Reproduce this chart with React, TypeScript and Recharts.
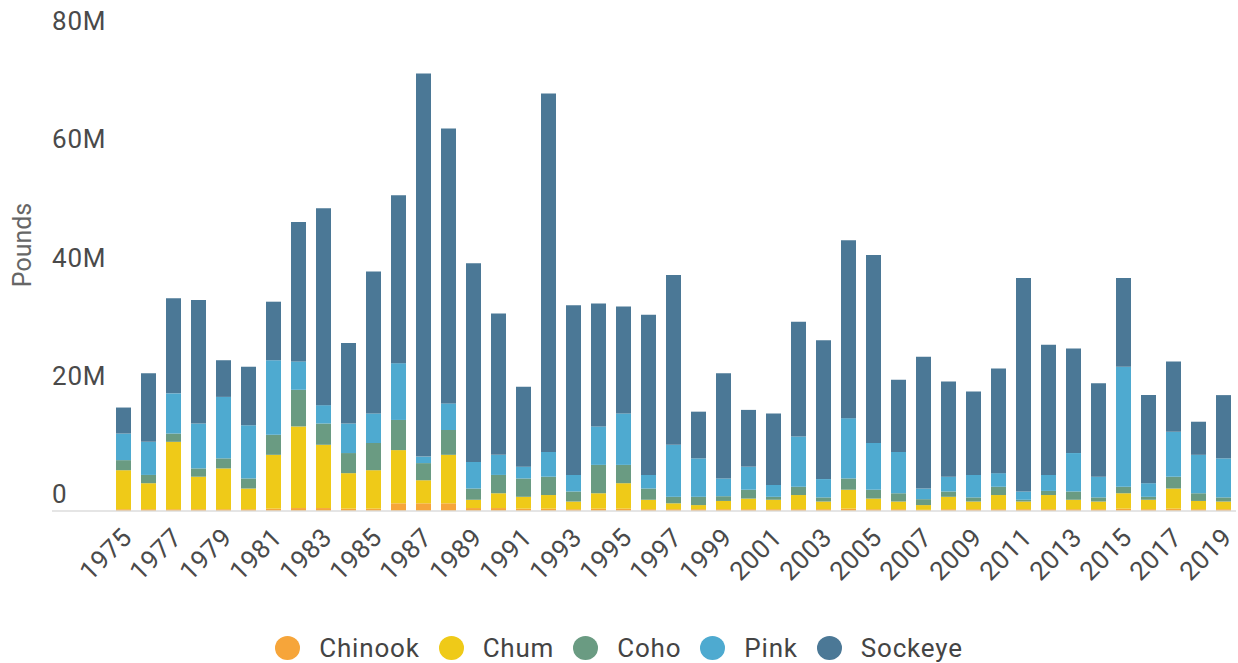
import React from "react"
import { BarChart, Bar, XAxis, YAxis, Legend } from "recharts"

// pounds landed, in millions
const years = [
  1975, 1976, 1977, 1978, 1979, 1980, 1981, 1982, 1983, 1984, 1985, 1986, 1987, 1988, 1989,
  1990, 1991, 1992, 1993, 1994, 1995, 1996, 1997, 1998, 1999, 2000, 2001, 2002, 2003, 2004,
  2005, 2006, 2007, 2008, 2009, 2010, 2011, 2012, 2013, 2014, 2015, 2016, 2017, 2018, 2019,
]
const chinook = [
  0.3, 0.3, 0.3, 0.3, 0.3, 0.3, 0.4, 0.5, 0.5, 0.4, 0.4, 1.3, 1.3, 1.3, 0.5,
  0.5, 0.4, 0.4, 0.3, 0.4, 0.4, 0.3, 0.3, 0.3, 0.3, 0.3, 0.3, 0.3, 0.3, 0.4,
  0.3, 0.3, 0.2, 0.3, 0.3, 0.3, 0.3, 0.3, 0.3, 0.3, 0.4, 0.3, 0.4, 0.3, 0.3,
]
const chum = [
  6.6, 4.4, 11.4, 5.5, 6.9, 3.5, 9.1, 13.8, 10.7, 6.0, 6.5, 9.0, 3.9, 8.2, 1.4,
  2.5, 2.0, 2.3, 1.3, 2.6, 4.3, 1.6, 1.0, 0.7, 1.4, 1.8, 1.6, 2.4, 1.3, 3.2,
  1.8, 1.3, 0.8, 2.1, 1.3, 2.4, 1.3, 2.4, 1.6, 1.3, 2.6, 1.6, 3.4, 1.4, 1.3,
]
const coho = [
  1.7, 1.4, 1.4, 1.4, 1.7, 1.7, 3.4, 6.2, 3.6, 3.4, 4.6, 5.1, 2.9, 4.2, 1.9,
  3.1, 3.1, 3.1, 1.7, 4.8, 3.1, 1.9, 1.1, 1.4, 0.8, 1.5, 0.5, 1.4, 0.7, 1.9,
  1.5, 1.4, 1.0, 0.9, 0.7, 1.4, 0.3, 0.7, 1.4, 0.7, 1.1, 0.5, 2.0, 1.3, 0.7,
]
const pink = [
  4.5, 5.6, 6.8, 7.6, 10.4, 9.0, 12.6, 4.8, 3.1, 5.0, 5.0, 9.6, 1.1, 4.5, 4.5,
  3.4, 2.0, 4.2, 2.8, 6.5, 8.7, 2.3, 8.8, 6.5, 3.0, 3.9, 2.0, 8.5, 3.1, 10.2,
  7.9, 7.0, 1.8, 2.5, 3.8, 2.3, 1.4, 2.7, 6.5, 3.5, 20.3, 2.3, 7.6, 6.5, 6.6,
]
const sockeye = [
  4.4, 11.6, 16.1, 20.9, 6.2, 9.9, 9.9, 23.6, 33.3, 13.6, 24.0, 28.4, 64.8, 46.5, 33.6,
  23.9, 13.5, 60.6, 28.7, 20.8, 18.1, 27.1, 28.7, 7.9, 17.8, 9.6, 12.1, 19.4, 23.5, 30.1,
  31.8, 12.2, 22.3, 16.1, 14.1, 17.7, 36.1, 22.0, 17.7, 15.8, 15.0, 14.9, 11.9, 5.6, 10.7,
]
const yTicks = [0, 20, 40, 60, 80]

const series = [
  { key: "chinook", name: "Chinook", color: "#f6a53a" },
  { key: "chum", name: "Chum", color: "#efca18" },
  { key: "coho", name: "Coho", color: "#6a9b82" },
  { key: "pink", name: "Pink", color: "#4eaad0" },
  { key: "sockeye", name: "Sockeye", color: "#4b7896" },
]

const data = years.map((year, i) => ({
  year: String(year),
  chinook: chinook[i],
  chum: chum[i],
  coho: coho[i],
  pink: pink[i],
  sockeye: sockeye[i],
}))

const YTick = (props: any) => {
  const { y, payload } = props
  return (
    <g>
      {payload.value === 0 && <line x1={52} x2={1236} y1={y} y2={y} stroke="#dcdcdc" strokeWidth={1.5} />}
      <text x={52} y={y - 8} fill="#4a4a4a" fontSize={26} letterSpacing={0.8} textAnchor="start">
        {payload.value === 0 ? "0" : `${payload.value}M`}
      </text>
    </g>
  )
}

const LegendContent = () => (
  <div style={{ display: "flex", justifyContent: "center", alignItems: "center", height: 30, gap: 19 }}>
    {series.map((s) => (
      <div key={s.key} style={{ display: "flex", alignItems: "center" }}>
        <span
          style={{ width: 25, height: 24, borderRadius: "50%", background: s.color, marginRight: 19, display: "inline-block" }}
        />
        <span style={{ fontSize: 26, letterSpacing: 0.8, color: "#444" }}>{s.name}</span>
      </div>
    ))}
  </div>
)

export default function App() {
  return (
    <div style={{ position: "absolute", left: 0, top: 0, fontFamily: "Roboto", background: "#fff" }}>
      <BarChart
        width={1238}
        height={663}
        data={data}
        margin={{ top: 38, right: 2, bottom: 22, left: 0 }}
        barCategoryGap="20%"
      >
        <XAxis
          dataKey="year"
          interval={1}
          axisLine={false}
          tickLine={false}
          angle={-45}
          textAnchor="end"
          height={100}
          tickMargin={9}
          tick={{ fontSize: 26, fill: "#4a4a4a", letterSpacing: 0.6, dx: -3 }}
        />
        <YAxis
          width={111}
          domain={[0, 80]}
          ticks={yTicks}
          axisLine={false}
          tickLine={false}
          tick={<YTick />}
          label={() => (
            <text transform="translate(22,245) rotate(-90)" textAnchor="middle" dominantBaseline="central" fill="#666" fontSize={25}>
              Pounds
            </text>
          )}
        />
        <Legend verticalAlign="bottom" wrapperStyle={{ left: 0, bottom: 0, width: 1238 }} content={<LegendContent />} />
        {series.map((s) => (
          <Bar key={s.key} dataKey={s.key} name={s.name} stackId="a" fill={s.color} isAnimationActive={false} />
        ))}
      </BarChart>
    </div>
  )
}
